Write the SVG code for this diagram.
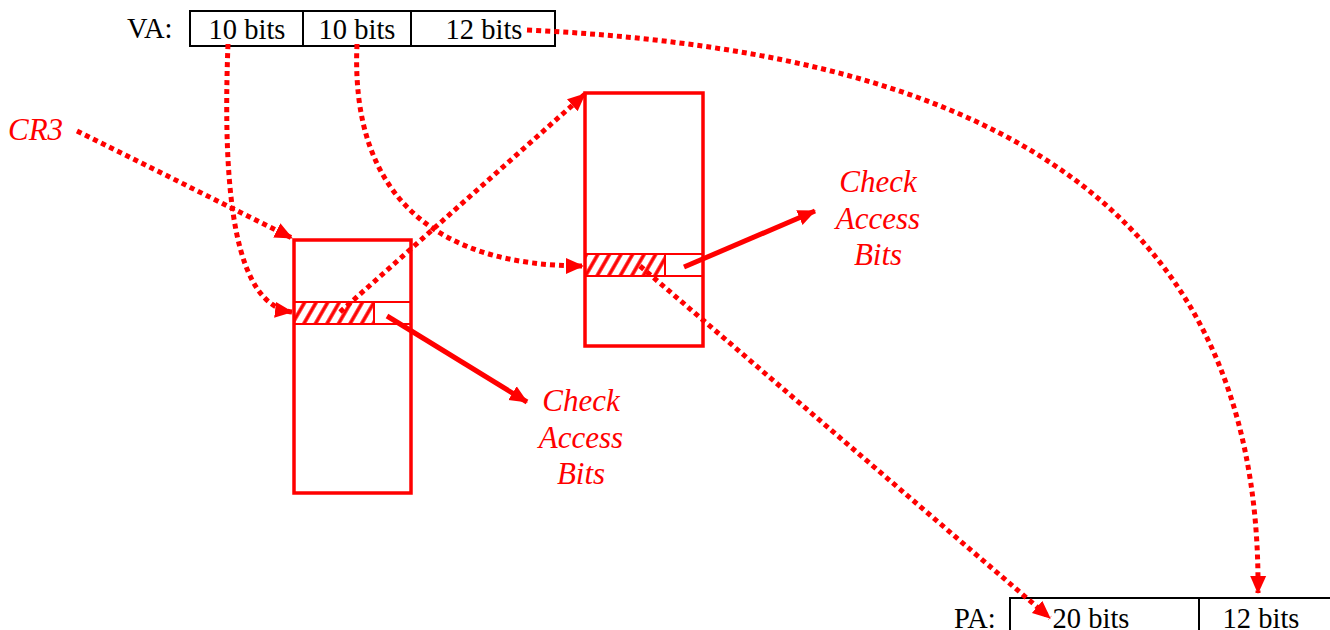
<svg xmlns="http://www.w3.org/2000/svg" width="1330" height="630" viewBox="0 0 1330 630">
<defs>
<style>
.blk{font-family:"Liberation Serif",serif;font-size:28.5px;fill:#000}
.red{font-family:"Liberation Serif",serif;font-style:italic;font-size:31px;fill:#f00}
.box{fill:#fff;stroke:#000;stroke-width:2}
.tbl{fill:#fff;stroke:#f00;stroke-width:3.5}
.row{fill:none;stroke:#f00;stroke-width:2}
.dot{fill:none;stroke:#f00;stroke-width:5;stroke-dasharray:5 4}
.sol{fill:none;stroke:#f00;stroke-width:5}
</style>
<marker id="ah" markerUnits="userSpaceOnUse" markerWidth="20" markerHeight="18" refX="17" refY="8" orient="auto" viewBox="0 0 20 16">
<path d="M0,0 L18,8 L0,16 Z" fill="#f00"/>
</marker>
<pattern id="hatch" patternUnits="userSpaceOnUse" width="10" height="10" patternTransform="rotate(30)">
<line x1="5" y1="0" x2="5" y2="10" stroke="#f00" stroke-width="3.5"/>
</pattern>
</defs>

<g id="va">
<text class="blk" x="127" y="38">VA:</text>
<rect class="box" x="190" y="11" width="365" height="35"/>
<line x1="303" y1="11" x2="303" y2="46" stroke="#000" stroke-width="2"/>
<line x1="411" y1="11" x2="411" y2="46" stroke="#000" stroke-width="2"/>
<text class="blk" x="247" y="39" text-anchor="middle">10 bits</text>
<text class="blk" x="357" y="39" text-anchor="middle">10 bits</text>
<text class="blk" x="484" y="39" text-anchor="middle">12 bits</text>
</g>

<g id="pa">
<text class="blk" x="954" y="628">PA:</text>
<rect class="box" x="1010" y="598" width="330" height="40"/>
<line x1="1199" y1="598" x2="1199" y2="630" stroke="#000" stroke-width="2"/>
<text class="blk" x="1091" y="628" text-anchor="middle">20 bits</text>
<text class="blk" x="1261" y="628" text-anchor="middle">12 bits</text>
</g>

<g id="cr3">
<text class="red" x="8" y="140">CR3</text>
</g>

<g id="table1">
<rect class="tbl" x="294" y="240" width="117" height="253"/>
<rect x="294" y="302" width="80" height="22" fill="url(#hatch)"/>
<line class="row" x1="294" y1="302" x2="411" y2="302"/>
<line class="row" x1="294" y1="324" x2="411" y2="324"/>
<line class="row" x1="374" y1="302" x2="374" y2="324"/>
</g>

<g id="table2">
<rect class="tbl" x="585" y="93" width="118" height="253"/>
<rect x="585" y="254" width="80" height="22" fill="url(#hatch)"/>
<line class="row" x1="585" y1="254" x2="703" y2="254"/>
<line class="row" x1="585" y1="276" x2="703" y2="276"/>
<line class="row" x1="665" y1="254" x2="665" y2="276"/>
</g>

<g id="check1">
<text class="red" x="581" y="411" text-anchor="middle">Check</text>
<text class="red" x="581" y="448" text-anchor="middle">Access</text>
<text class="red" x="581" y="484" text-anchor="middle">Bits</text>
</g>

<g id="check2">
<text class="red" x="878" y="192" text-anchor="middle">Check</text>
<text class="red" x="878" y="229" text-anchor="middle">Access</text>
<text class="red" x="878" y="265" text-anchor="middle">Bits</text>
</g>

<g id="connectors">
<path class="dot" d="M77,131 L292,238" marker-end="url(#ah)"/>
<path class="dot" d="M228,44 C222,200 236,305 292,312" marker-end="url(#ah)"/>
<path class="dot" d="M357,44 C350,200 440,266 583,266" marker-end="url(#ah)"/>
<path class="dot" d="M340,312 L585,94" marker-end="url(#ah)"/>
<path class="dot" d="M640,266 L1050,618" marker-end="url(#ah)"/>
<path class="dot" d="M527,30 C950,50 1262,180 1258,593" marker-end="url(#ah)"/>
<path class="sol" d="M387,316 L527,402" marker-end="url(#ah)"/>
<path class="sol" d="M684,267 L815,211" marker-end="url(#ah)"/>
</g>
</svg>
